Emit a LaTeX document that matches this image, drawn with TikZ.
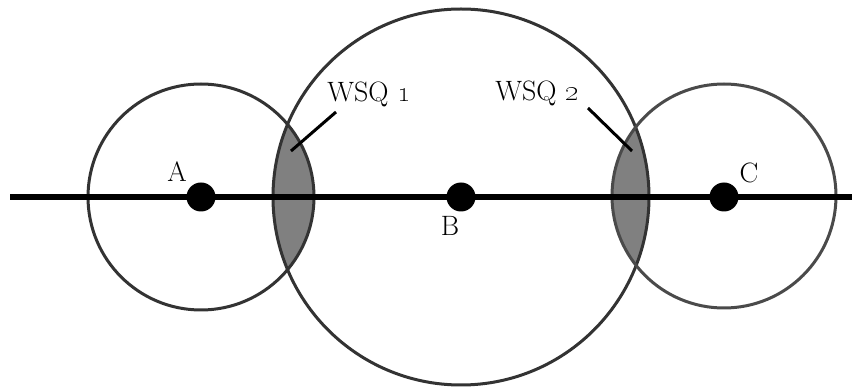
\documentclass[tikz,border=0pt]{standalone}

\definecolor{wqring}{HTML}{333333}
\definecolor{wqringc}{HTML}{4A4A4A}
\definecolor{wqlens}{HTML}{808080}

\begin{document}
\begin{tikzpicture}[
  x=1pt, y=-1pt,
  font=\fontsize{28}{32}\selectfont,
  ring/.style={draw=wqring, line width=3pt},
  lens/.style={fill=wqlens},
  axis/.style={draw=black, line width=6.5pt},
  site/.style={circle, fill=black, minimum size=29pt, inner sep=0pt},
  lead/.style={draw=black, line width=3pt},
  lbl/.style={inner sep=0pt},
]
  \useasboundingbox (0,0) rectangle (852,387);

  % overlap zones
  \begin{scope}
    \clip (201,197) circle (113);
    \fill[lens] (461,197) circle (188);
  \end{scope}
  \begin{scope}
    \clip (461,197) circle (188);
    \fill[lens] (724,196) circle (112);
  \end{scope}

  % rings
  \draw[ring] (201,197) circle (113);
  \draw[ring] (461,197) circle (188);
  \draw[ring, draw=wqringc] (724,196) circle (112);

  % axis and sites
  \coordinate (west) at (10,197);
  \coordinate (east) at (852,197);
  \draw[axis] (west) -- (east);
  \node[site] (A) at (201,197) {};
  \node[site] (B) at (461,197) {};
  \node[site] (C) at (724,197) {};

  % names
  \node[lbl] (la) at (177,172) {A};
  \node[lbl] (lb) at (450,226) {B};
  \node[lbl] (lc) at (749,173) {C};
  \node[lbl, anchor=base] (wsq1) at (369,102) {WSQ \oldstylenums{1}};
  \node[lbl, anchor=base] (wsq2) at (537,101) {WSQ \oldstylenums{2}};

  % leaders into the zones
  \coordinate (z1) at (291,151);
  \coordinate (z2) at (632,151);
  \draw[lead] (336,112) -- (z1);
  \draw[lead] (588,108) -- (z2);
\end{tikzpicture}
\end{document}
